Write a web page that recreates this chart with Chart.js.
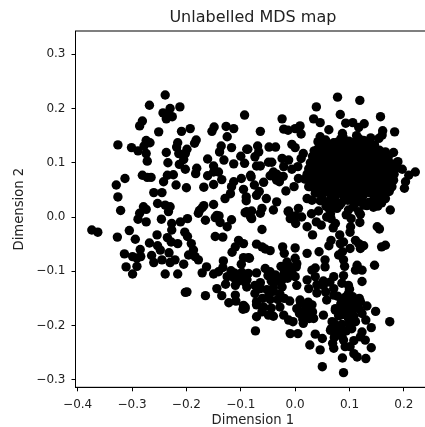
<!DOCTYPE html>
<html>
<head>
<meta charset="utf-8">
<style>
  html, body { margin: 0; padding: 0; background: #fff; overflow: hidden; }
  canvas { display: block; }
</style>
<script src="https://cdn.jsdelivr.net/npm/chart.js@4/dist/chart.umd.min.js"></script>
</head>
<body>
<!-- wider than the window on purpose: the reference is cut off before the right spine -->
<canvas id="chart1" width="435" height="427"></canvas>
<script>
const xTicks = [-0.4, -0.3, -0.2, -0.1, 0.0, 0.1, 0.2];
const yTicks = [-0.3, -0.2, -0.1, 0.0, 0.1, 0.2, 0.3];

// upper left part of the map
const x1 = [-.239,-.268,-.230,-.212,-.243,-.233,-.226,-.237,-.281,-.286,-.251,-.209,-.193,-.326,-.301,-.289,-.274,-.267,-.278,-.274,
  -.272,-.237,-.216,-.218,-.182,-.185,-.199,-.214,-.202,-.205,-.234,-.213,-.202,-.181,-.183,-.161,-.149,-.153,-.127,-.113,
  -.125,-.136,-.139,-.117,-.089,-.131,-.113,-.100,-.093,-.150,-.150,-.141,-.161,-.135,-.150,-.168,-.200,-.219,-.281,-.272,
  -.265,-.313,-.329,-.326,-.260,-.245,-.242,-.235,-.224,-.113,-.117,-.099,-.119,-.129,-.095,-.090,-.090,-.321,-.279,-.286,
  -.274,-.253,-.239,-.230,-.233,-.150,-.168,-.176,-.144,-.089,-.082,-.093];
const y1 = [.225,.206,.200,.203,.192,.189,.185,.181,.177,.168,.157,.158,.163,.133,.128,.122,.141,.137,.131,.117,
  .103,.119,.137,.129,.142,.136,.125,.117,.117,.106,.100,.097,.088,.090,.080,.107,.166,.158,.167,.163,
  .148,.131,.120,.128,.125,.105,.098,.112,.099,.094,.083,.083,.076,.069,.060,.055,.054,.059,.077,.073,
  .073,.071,.059,.037,.045,.045,.065,.077,.078,.065,.056,.071,.043,.034,.051,.037,.030,.012,.019,.007,
  .014,.025,.022,.019,.010,.023,.021,.012,.003,.010,.077,.188];

// lower left part
const x2 = [-.289,-.274,-.246,-.227,-.227,-.211,-.198,-.178,-.171,-.165,-.147,-.140,-.138,-.125,-.117,-.092,-.082,-.374,-.363,-.327,
  -.305,-.294,-.254,-.268,-.235,-.228,-.216,-.203,-.198,-.191,-.147,-.133,-.104,-.095,-.110,-.116,-.095,-.084,-.099,-.314,
  -.299,-.285,-.291,-.284,-.311,-.291,-.299,-.264,-.253,-.248,-.260,-.245,-.232,-.230,-.221,-.205,-.239,-.216,-.196,-.187,
  -.184,-.178,-.163,-.171,-.150,-.141,-.132,-.133,-.118,-.125,-.113,-.098,-.089,-.128,-.144,-.110,-.089,-.110,-.135,-.122,
  -.109,-.199,-.202,-.165,-.095,-.092,-.096];
const y2 = [-.004,-.009,-.004,-.012,-.024,-.009,-.003,.007,.017,-.006,-.001,.002,-.010,-.018,-.005,.008,.000,-.024,-.028,-.037,
  -.025,-.041,-.033,-.048,-.038,-.046,-.049,-.028,-.036,-.049,-.036,-.037,-.043,-.049,-.055,-.065,-.075,-.076,-.087,-.068,
  -.073,-.060,-.076,-.073,-.092,-.091,-.105,-.071,-.053,-.061,-.084,-.079,-.066,-.084,-.079,-.087,-.105,-.105,-.070,-.061,
  -.073,-.079,-.092,-.103,-.105,-.101,-.081,-.093,-.099,-.110,-.112,-.108,-.116,-.124,-.132,-.126,-.129,-.144,-.145,-.158,
  -.155,-.138,-.139,-.145,-.163,-.169,-.170];

// upper right part, around the dense cluster
const x3 = [.078,.119,.039,.083,.157,-.024,.034,.046,.093,.106,.127,.117,-.021,-.013,.000,.009,.011,.062,.161,.183,
  -.064,.087,.117,.046,.154,.160,.132,-.006,.000,-.069,-.048,-.036,-.087,-.067,-.074,.015,.011,.166,.181,.189,
  .197,.221,.209,.203,.201,.178,.178,-.024,-.012,-.049,-.043,-.071,-.064,-.021,-.006,.005,-.040,-.037,-.034,-.081,
  -.075,-.058,-.066,-.071,-.053,-.034,-.029,-.017,-.002,.006,.025,.034,.022,.031,.050,.055,.077,.071,.098,.104,
  .117,.157,.166,.175,.151,.043,.065,.077,.098,.117,-.012,.006,-.040,-.061,-.080];
const y3 = [.221,.215,.203,.189,.185,.181,.181,.174,.173,.174,.172,.165,.162,.160,.163,.168,.153,.161,.159,.157,
  .158,.154,.145,.148,.145,.151,.133,.134,.128,.131,.129,.129,.125,.120,.111,.117,.108,.120,.119,.102,
  .088,.083,.077,.065,.053,.056,.068,.108,.105,.101,.101,.094,.094,.093,.088,.093,.083,.074,.068,.074,
  .059,.064,.047,.040,.034,.028,.065,.048,.056,.071,.056,.059,.034,.031,.033,.047,.050,.034,.047,.034,
  .028,.037,.034,.013,.028,.011,.019,.016,.013,.010,.011,.016,.013,.016,.011];

// the dense cluster itself
const x4 = [.042,.056,.071,.084,.099,.112,.126,.050,.063,.078,.092,.105,.119,.134,.146,.035,.047,.060,.074,.088,
  .101,.115,.128,.141,.153,.164,.032,.044,.057,.069,.083,.096,.109,.122,.136,.148,.160,.171,.028,.041,
  .053,.066,.079,.093,.106,.118,.131,.143,.156,.168,.179,.025,.038,.050,.063,.076,.089,.102,.114,.127,
  .139,.152,.164,.175,.186,.022,.035,.047,.060,.073,.086,.099,.111,.124,.136,.149,.161,.172,.182,.018,
  .031,.044,.057,.070,.083,.096,.108,.121,.133,.146,.158,.170,.181,.027,.040,.053,.066,.079,.092,.104,
  .117,.130,.143,.155,.167,.176,.037,.049,.062,.075,.088,.101,.113,.126,.139,.151,.163,.173,.046,.059,
  .072,.085,.097,.110,.123,.135,.147,.159,.057,.082,.107,.132,.065,.094,.120,.144,.052,.088,.113,.139];
const y4 = [.139,.142,.137,.144,.140,.135,.141,.131,.128,.133,.127,.131,.126,.130,.125,.122,.118,.124,.119,.123,
  .117,.121,.116,.122,.118,.112,.112,.108,.113,.107,.111,.106,.112,.105,.110,.108,.104,.110,.100,.097,
  .103,.098,.102,.096,.101,.095,.100,.097,.099,.094,.098,.089,.086,.091,.085,.090,.084,.089,.083,.088,
  .085,.087,.082,.086,.090,.079,.075,.080,.074,.078,.073,.077,.072,.076,.074,.078,.072,.075,.079,.070,
  .066,.069,.064,.068,.063,.067,.062,.066,.063,.067,.061,.064,.068,.056,.053,.058,.052,.056,.051,.055,
  .050,.054,.052,.055,.050,.054,.044,.041,.046,.040,.044,.039,.043,.041,.044,.040,.043,.047,.030,.028,
  .032,.026,.031,.025,.030,.027,.031,.026,.020,.022,.019,.021,.006,.004,.005,.018,.137,.148,.150,.146];

// more points inside the cluster, it prints as solid black
const x4b = [.048,.064,.078,.092,.106,.120,.133,.146,.041,.056,.070,.085,.099,.113,.127,.141,.155,.038,.052,.066,
  .080,.094,.108,.122,.135,.149,.163,.034,.049,.063,.077,.090,.104,.118,.132,.145,.158,.171,.031,.045,
  .059,.073,.087,.101,.114,.128,.142,.156,.169,.036,.051,.066,.081,.095,.110,.124,.138,.152,.165,.044,
  .058,.072,.086,.100,.115,.129,.143,.157,.170,.048,.063,.078,.092,.107,.121,.136,.150,.164,.055,.070,
  .084,.099,.113,.128,.142,.155,.066,.090,.105,.118,.146,.056,.078,.126,.152];
const y4b = [.135,.134,.138,.136,.137,.133,.135,.133,.125,.126,.123,.124,.122,.124,.123,.125,.123,.114,.116,.115,
  .113,.115,.114,.113,.115,.113,.116,.104,.105,.103,.105,.102,.104,.102,.104,.103,.105,.103,.092,.094,
  .093,.092,.094,.092,.093,.091,.093,.092,.090,.081,.082,.080,.081,.079,.081,.080,.082,.079,.080,.072,
  .070,.072,.069,.071,.070,.071,.069,.072,.062,.061,.059,.060,.058,.060,.059,.060,.058,.061,.049,.048,
  .050,.048,.049,.047,.049,.052,.038,.037,.036,.038,.035,.026,.024,.022,.020];

// lower right part
const x5 = [-.061,.022,.032,.039,-.009,-.013,.001,-.064,-.080,.062,.058,.074,.066,.103,.119,.101,.082,.151,.155,.066,
  .062,.083,.089,.101,.111,.117,.126,.120,.166,.159,.087,.080,.044,.022,.000,-.023,-.020,.000,.003,-.071,
  -.061,-.046,-.055,-.086,.055,.055,.089,.091,.114,.123,.111,.146,.037,.031,-.015,-.021,-.012,.000,-.055,-.046,
  -.071,-.089,-.064,-.074,.003,.037,.022,.071,.089,.098,.123,.052,.071,.025,-.024,-.024,-.040,-.049,-.074,-.071,
  -.071,-.092,-.028,-.061,-.049,-.040,-.071,-.021,-.012,-.004,.009,.003,.019,.031,.022,.034,.015,.052,.058,.071,
  .086,.098,.120,.132,.148,.123,.104,.092,.074,.083,.098,.111,.068,.065,.074,.174,.140,.120,.129,.140,
  .123,-.073,-.009,.005,.037,.050,.027,.046,.069,.071,.089,.092,.101,.108,.114,.087,.130,.050,.089,.104];
const y5 = [-.023,-.018,-.033,-.009,-.003,.010,-.012,.007,-.003,.016,.000,-.012,-.003,-.003,-.010,-.028,-.033,-.018,-.022,-.043,
  -.053,-.049,-.046,-.058,-.043,-.049,-.053,-.058,-.052,-.055,-.064,-.070,-.064,-.067,-.057,-.055,-.067,-.076,-.086,-.050,
  -.055,-.062,-.059,-.075,-.079,-.092,-.079,-.091,-.089,-.098,-.098,-.089,-.094,-.098,-.083,-.095,-.104,-.110,-.095,-.101,
  -.103,-.115,-.121,-.126,-.126,-.110,-.116,-.110,-.108,-.126,-.119,-.126,-.132,-.132,-.116,-.129,-.137,-.147,-.141,-.156,
  -.162,-.166,-.166,-.175,-.181,-.183,-.184,-.181,-.190,-.193,-.153,-.169,-.169,-.162,-.181,-.187,-.196,-.181,-.153,-.144,
  -.156,-.141,-.156,-.164,-.174,-.178,-.162,-.175,-.169,-.181,-.187,-.193,-.193,-.209,-.215,-.193,-.204,-.221,-.227,-.241,
  -.212,-.210,-.215,-.215,-.216,-.224,-.236,-.245,-.233,-.242,-.227,-.239,-.239,-.252,-.258,-.260,-.261,-.276,-.287,-.206];

// heavier patches in the lower half
const x6 = [.078,.092,.106,.118,.084,.098,.112,.074,.090,.104,.118,.080,.094,.108,.072,.086,.100,.066,.080,.094,
  .072,.086,.010,.024,.008,.020,.032,.014,.026,-.026,-.012,.002,-.020,-.006,-.028,-.014,-.050,-.036,-.044,-.030,
  -.060,-.046,-.112,-.098,-.086,-.104,-.092,-.064,-.052,-.040,-.028,-.032,-.020,-.010,-.058,-.044,.040,.052,.064,.086,
  .040,.056,.100,.130,.108,-.046,-.034,-.022,.012,.000,.030,.048,.070,.102];
const y6 = [-.146,-.148,-.147,-.150,-.160,-.158,-.161,-.172,-.170,-.172,-.170,-.182,-.181,-.183,-.196,-.198,-.197,-.206,-.208,-.210,
  -.222,-.220,-.158,-.157,-.178,-.176,-.175,-.188,-.187,-.091,-.090,-.092,-.103,-.102,-.114,-.113,-.108,-.107,-.118,-.119,
  -.150,-.152,-.103,-.102,-.104,-.118,-.120,-.132,-.134,-.130,-.142,-.152,-.150,-.155,-.166,-.168,-.125,-.118,-.120,-.122,
  -.140,-.138,-.133,-.190,-.228,.076,.079,.075,.000,.002,.006,-.015,-.020,-.018];

const xValues = [...x1, ...x2, ...x3, ...x4, ...x4b, ...x5, ...x6];
const yValues = [...y1, ...y2, ...y3, ...y4, ...y4b, ...y5, ...y6];

const minus = (v) => v.toFixed(1).replace('-', '\u2212');

// top and right spines, chart.js only gives the axis side
const frame = {
  id: 'frame',
  afterDraw(chart) {
    const { ctx, chartArea: a } = chart;
    ctx.save();
    ctx.strokeStyle = '#000';
    ctx.lineWidth = 1;
    ctx.strokeRect(a.left, a.top, a.right - a.left, a.bottom - a.top);
    ctx.restore();
  }
};

const tickFont = { family: 'DejaVu Sans', size: 12 };
const axisTitleFont = { family: 'DejaVu Sans', size: 13.2, lineHeight: 1 };

new Chart(document.getElementById('chart1'), {
  type: 'scatter',
  data: {
    datasets: [{
      data: xValues.map((x, i) => ({ x: x, y: yValues[i] })),
      backgroundColor: '#000',
      borderWidth: 0,
      pointRadius: 4.7,
      pointHoverRadius: 4.7
    }]
  },
  options: {
    responsive: false,
    animation: false,
    layout: { padding: { top: 0, right: 1, left: 0, bottom: 0 } },
    plugins: {
      legend: { display: false },
      tooltip: { enabled: false },
      title: {
        display: true,
        fullSize: false,
        text: 'Unlabelled MDS map',
        color: '#222',
        font: { family: 'DejaVu Sans', size: 16, weight: 'normal', lineHeight: 1 },
        padding: { top: 10, bottom: 5 }
      }
    },
    scales: {
      x: {
        type: 'linear',
        min: -0.404,
        max: 0.2486,
        afterBuildTicks: (s) => { s.ticks = xTicks.map((v) => ({ value: v })); },
        afterFit: (s) => { s.height = 39.7; s.paddingLeft = 0; s.paddingRight = 0; },
        grid: { drawOnChartArea: false, tickLength: 4, tickColor: '#000' },
        border: { color: '#000' },
        ticks: { color: '#222', font: tickFont, padding: 6, maxRotation: 0, autoSkip: false, callback: minus },
        title: { display: true, text: 'Dimension 1', color: '#222', font: axisTitleFont, padding: 0 }
      },
      y: {
        type: 'linear',
        min: -0.314,
        max: 0.343,
        afterBuildTicks: (s) => { s.ticks = yTicks.map((v) => ({ value: v })); },
        afterFit: (s) => { s.width = 75.5; s.paddingTop = 0; s.paddingBottom = 0; },
        grid: { drawOnChartArea: false, tickLength: 4, tickColor: '#000' },
        border: { color: '#000' },
        ticks: { color: '#222', font: tickFont, padding: 6, autoSkip: false, callback: minus },
        title: { display: true, text: 'Dimension 2', color: '#222', font: axisTitleFont, padding: { top: 13, bottom: 0 } }
      }
    }
  },
  plugins: [frame]
});
</script>
</body>
</html>
